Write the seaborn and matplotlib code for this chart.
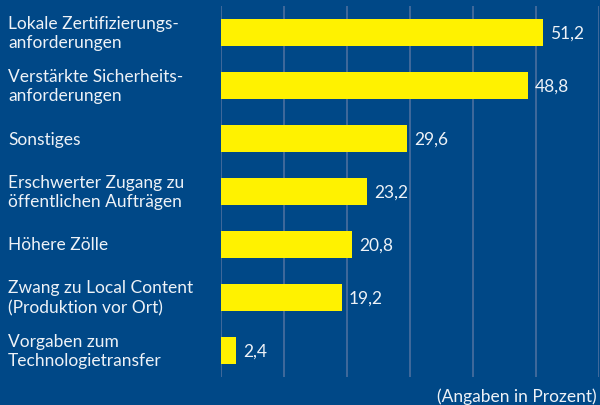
import matplotlib
matplotlib.use("Agg")
import matplotlib.pyplot as plt
import matplotlib.transforms as mtransforms
import seaborn as sns
import pandas as pd

categories = [
    "Lokale Zertifizierungs-\nanforderungen",
    "Verstärkte Sicherheits-\nanforderungen",
    "Sonstiges",
    "Erschwerter Zugang zu\nöffentlichen Aufträgen",
    "Höhere Zölle",
    "Zwang zu Local Content\n(Produktion vor Ort)",
    "Vorgaben zum\nTechnologietransfer",
]
values = [51.2, 48.8, 29.6, 23.2, 20.8, 19.2, 2.4]
value_labels = ["51,2", "48,8", "29,6", "23,2", "20,8", "19,2", "2,4"]
x_ticks = [0, 10, 20, 30, 40, 50, 60]
note = "(Angaben in Prozent)"

BG = "#004887"
YELLOW = "#fff200"
GRID = "#4b6f9e"
TXT = "#eef2f7"

sns.set_theme(style="white")
plt.rcParams["font.family"] = ["Lato", "DejaVu Sans"]

df = pd.DataFrame({"cat": categories, "val": values})

fig = plt.figure(figsize=(6.0, 4.06), dpi=100)
fig.patch.set_facecolor(BG)
ax = fig.add_axes([221 / 600, 1 - 378 / 406, (598.5 - 221) / 600, (378 - 7) / 406])
ax.set_facecolor(BG)

sns.barplot(data=df, x="val", y="cat", orient="h", color=YELLOW,
            saturation=1, width=0.5, ax=ax, zorder=3)
for p in ax.patches:
    p.set_edgecolor("none")

ax.set_xlim(0, 60)
ax.set_ylim(6.5, -0.5)
ax.set_xticks(x_ticks)
ax.xaxis.grid(True, color=GRID, linewidth=1.2, zorder=0)
ax.yaxis.grid(False)
ax.tick_params(axis="both", length=0, labelbottom=False, labelleft=False)
ax.set_xlabel("")
ax.set_ylabel("")
for s in ax.spines.values():
    s.set_visible(False)

trans = mtransforms.blended_transform_factory(fig.transFigure, ax.transData)
for i, (c, v, lab) in enumerate(zip(categories, values, value_labels)):
    ax.text(8 / 600, i, c, transform=trans, ha="left", va="center",
            color=TXT, fontsize=12.5, linespacing=1.3)
    ax.text(v + 1.1, i, lab, ha="left", va="center", color=TXT, fontsize=12.5)

fig.text(597 / 600, 1 - 397 / 406, note, ha="right", va="center",
         color=TXT, fontsize=12.5)

fig.savefig("out.png", dpi=100, facecolor=BG)
